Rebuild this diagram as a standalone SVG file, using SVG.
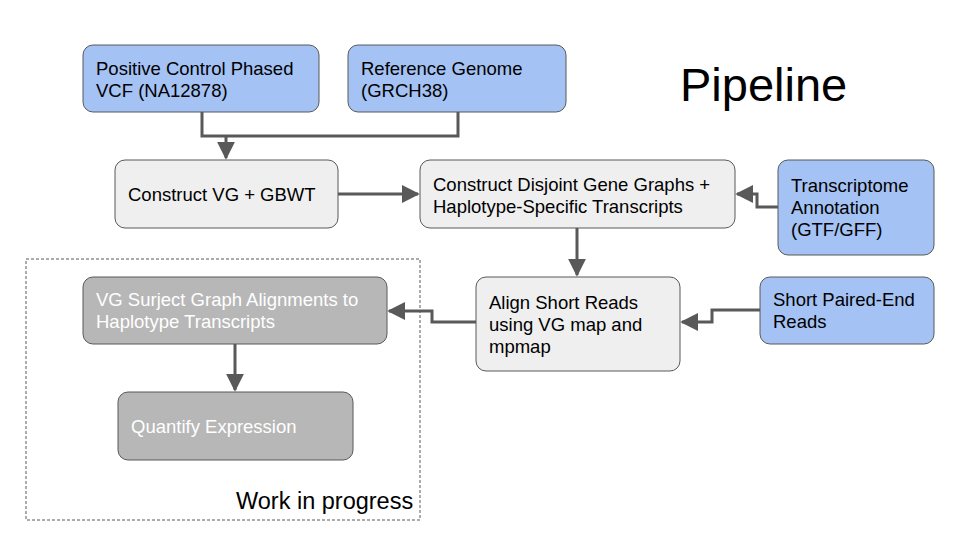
<svg xmlns="http://www.w3.org/2000/svg" width="960" height="540" viewBox="0 0 960 540">
<style>
.blue{fill:#a4c2f4;stroke:#595959;stroke-width:1}
.light{fill:#efefef;stroke:#595959;stroke-width:1}
.grey{fill:#b7b7b7;stroke:#595959;stroke-width:1}
text{font-family:"Liberation Sans",Arial,sans-serif;font-size:18.5px;fill:#000}
.w{fill:#ffffff}
.con{fill:none;stroke:#595959;stroke-width:3}
</style>
<defs>
<marker id="ah" viewBox="0 0 10 10" refX="9" refY="5" markerWidth="6" markerHeight="6" markerUnits="strokeWidth" orient="auto">
<path d="M0,0 L10,5 L0,10 z" fill="#595959"/>
</marker>
</defs>
<rect width="960" height="540" fill="#ffffff"/>
<text x="680" y="101" style="font-size:47px">Pipeline</text>
<rect x="26" y="259" width="394" height="261" fill="none" stroke="#595959" stroke-width="1" stroke-dasharray="3,2"/>
<text x="236" y="509" style="font-size:23.5px">Work in progress</text>
<g id="connectors">
<path class="con" d="M202,112 V136 H458 V112"/>
<path class="con" d="M226,136 V158" marker-end="url(#ah)"/>
<path class="con" d="M338,194 H418" marker-end="url(#ah)"/>
<path class="con" d="M778,207 H757 V194 H737" marker-end="url(#ah)"/>
<path class="con" d="M577,228 V275" marker-end="url(#ah)"/>
<path class="con" d="M760,310 H712 V322 H682" marker-end="url(#ah)"/>
<path class="con" d="M476,322 H432 V311 H389" marker-end="url(#ah)"/>
<path class="con" d="M235,344 V390" marker-end="url(#ah)"/>
</g>
<g id="n1"><rect class="blue" x="83" y="45" width="236" height="67" rx="10"/><text x="96" y="75">Positive Control Phased</text><text x="96" y="97">VCF (NA12878)</text></g>
<g id="n2"><rect class="blue" x="348" y="45" width="218" height="67" rx="10"/><text x="361" y="75">Reference Genome</text><text x="361" y="97">(GRCH38)</text></g>
<g id="n3"><rect class="light" x="115" y="160" width="223" height="68" rx="10"/><text x="128" y="201">Construct VG + GBWT</text></g>
<g id="n4"><rect class="light" x="420" y="160" width="315" height="68" rx="10"/><text x="433" y="191">Construct Disjoint Gene Graphs +</text><text x="433" y="213">Haplotype-Specific Transcripts</text></g>
<g id="n5"><rect class="blue" x="778" y="160" width="156" height="95" rx="10"/><text x="791" y="192">Transcriptome</text><text x="791" y="214">Annotation</text><text x="791" y="236">(GTF/GFF)</text></g>
<g id="n6"><rect class="light" x="476" y="277" width="204" height="94" rx="10"/><text x="489" y="309">Align Short Reads</text><text x="489" y="331">using VG map and</text><text x="489" y="353">mpmap</text></g>
<g id="n7"><rect class="blue" x="760" y="277" width="174" height="67" rx="10"/><text x="773" y="306">Short Paired-End</text><text x="773" y="328">Reads</text></g>
<g id="n8"><rect class="grey" x="83" y="277" width="304" height="67" rx="10"/><text class="w" x="96" y="306">VG Surject Graph Alignments to</text><text class="w" x="96" y="328">Haplotype Transcripts</text></g>
<g id="n9"><rect class="grey" x="118" y="392" width="235" height="68" rx="10"/><text class="w" x="131" y="433">Quantify Expression</text></g>
</svg>
